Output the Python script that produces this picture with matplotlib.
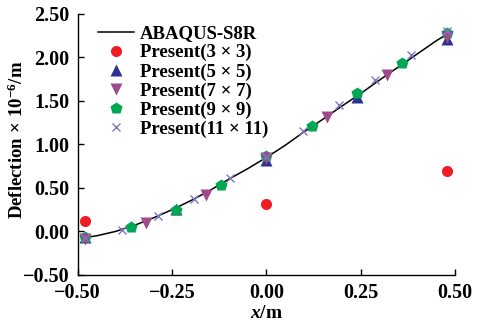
import matplotlib
matplotlib.use('Agg')
import matplotlib.pyplot as plt

# ABAQUS-S8R reference curve
x_abaqus = [-0.48, -0.45, -0.40, -0.35, -0.30, -0.25, -0.20, -0.15, -0.10, -0.05, 0.00,
            0.05, 0.10, 0.15, 0.20, 0.25, 0.30, 0.35, 0.40, 0.45, 0.48]
y_abaqus = [-0.07, -0.05, 0.00, 0.07, 0.155, 0.25, 0.355, 0.47, 0.60, 0.72, 0.85,
            0.99, 1.145, 1.29, 1.44, 1.585, 1.74, 1.89, 2.04, 2.19, 2.27]

x_3 = [-0.48, 0.0, 0.48]
y_3 = [0.12, 0.31, 0.70]

x_5 = [-0.48, -0.24, 0.0, 0.24, 0.48]
y_5 = [-0.06, 0.26, 0.82, 1.55, 2.21]

x_7 = [-0.48, -0.32, -0.16, 0.0, 0.16, 0.32, 0.48]
y_7 = [-0.09, 0.10, 0.42, 0.85, 1.32, 1.80, 2.24]

x_9 = [-0.48, -0.36, -0.24, -0.12, 0.0, 0.12, 0.24, 0.36, 0.48]
y_9 = [-0.06, 0.05, 0.25, 0.53, 0.87, 1.21, 1.59, 1.94, 2.28]

x_11 = [-0.48, -0.384, -0.288, -0.192, -0.096, 0.0, 0.096, 0.192, 0.288, 0.384, 0.48]
y_11 = [-0.08, 0.02, 0.18, 0.37, 0.62, 0.86, 1.155, 1.45, 1.74, 2.03, 2.30]

xticks = [-0.50, -0.25, 0.00, 0.25, 0.50]
yticks = [-0.50, 0.00, 0.50, 1.00, 1.50, 2.00, 2.50]

plt.rcParams['font.family'] = ['Liberation Serif', 'DejaVu Serif']
plt.rcParams['font.weight'] = 'bold'
plt.rcParams['mathtext.fontset'] = 'custom'
plt.rcParams['mathtext.rm'] = 'Liberation Serif:bold'
plt.rcParams['mathtext.it'] = 'Liberation Serif:italic:bold'
plt.rcParams['mathtext.bf'] = 'Liberation Serif:bold'

fig = plt.figure(figsize=(4.86, 3.25), dpi=100)
ax = fig.add_axes([0.16, 0.154, 0.776, 0.803])

ax.plot(x_abaqus, y_abaqus, color='black', lw=1.1, label='ABAQUS-S8R', zorder=2)
ax.plot(x_3, y_3, 'o', color='#ee1c25', ms=8, mec='none', label='Present(3 × 3)', zorder=3)
ax.plot(x_5, y_5, '^', color='#2e3192', ms=8.5, mec='none', label='Present(5 × 5)', zorder=3)
ax.plot(x_7, y_7, 'v', color='#9e4a8c', ms=8.5, mec='none', label='Present(7 × 7)', zorder=4)
ax.plot(x_9, y_9, 'p', color='#00a651', ms=9, mec='none', label='Present(9 × 9)', zorder=3)
ax.plot(x_11, y_11, 'x', color='#7b78c0', ms=6, mew=1.0, label='Present(11 × 11)', zorder=5)

ax.set_xlim(-0.5, 0.5)
ax.set_ylim(-0.5, 2.5)
ax.set_xticks(xticks)
ax.set_yticks(yticks)
ax.set_xticklabels(['%.2f' % v if v >= 0 else '\u2212%.2f' % abs(v) for v in xticks])
ax.set_yticklabels(['%.2f' % v if v >= 0 else '\u2212%.2f' % abs(v) for v in yticks])
ax.tick_params(direction='in', length=4, width=1, labelsize=14.5, pad=6)
for lab in ax.get_xticklabels() + ax.get_yticklabels():
    lab.set_fontweight('bold')

ax.spines['top'].set_visible(False)
ax.spines['right'].set_visible(False)
ax.spines['left'].set_linewidth(1)
ax.spines['bottom'].set_linewidth(1)

ax.set_xlabel(r'$x$/m', fontsize=14, fontweight='bold', labelpad=1)
ax.set_ylabel(r'Deflection$\,\times\,10^{-6}$/m', fontsize=13.5, fontweight='bold')
ax.yaxis.set_label_coords(-0.135, 0.52)

leg = ax.legend(loc='upper left', bbox_to_anchor=(0.02, 1.008), frameon=False,
                fontsize=13.5, handlelength=1.9, handletextpad=0.3,
                labelspacing=0.1, borderaxespad=0.3)
for t in leg.get_texts():
    t.set_fontweight('bold')

fig.savefig('out.png', dpi=100)
